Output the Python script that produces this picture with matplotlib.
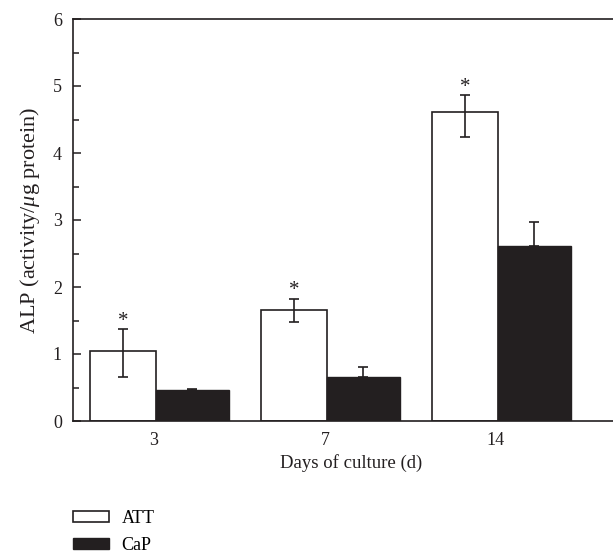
import numpy as np
import matplotlib
matplotlib.use("Agg")
import matplotlib.pyplot as plt
from matplotlib.ticker import MultipleLocator
from matplotlib.patches import Patch

plt.rcParams['font.family'] = ['Liberation Serif', 'DejaVu Serif']
plt.rcParams['mathtext.fontset'] = 'custom'
plt.rcParams['mathtext.rm'] = 'Liberation Serif'
plt.rcParams['mathtext.it'] = 'Liberation Serif:italic'

days = ['3', '7', '14']
att = [1.04, 1.66, 4.61]
att_err_lo = [0.39, 0.18, 0.37]
att_err_hi = [0.33, 0.165, 0.25]
cap = [0.46, 0.66, 2.61]
cap_err = [0.02, 0.15, 0.36]
signif = [True, True, True]

dark = '#231f20'
fs = 13

fig = plt.figure(figsize=(6.13, 5.57), dpi=100)
W, H = 613, 557
ax = fig.add_axes([73 / W, (H - 421) / H, (630 - 73) / W, (421 - 19) / H])

x = np.arange(len(days))
w_att, w_cap = 0.385, 0.425
ax.bar(x - w_att / 2, att, w_att, color='white', edgecolor=dark, linewidth=1.2, zorder=2)
ax.bar(x + w_cap / 2, cap, w_cap, color=dark, edgecolor=dark, linewidth=1.0, zorder=2)
ax.errorbar(x - w_att / 2, att, yerr=[att_err_lo, att_err_hi], fmt='none', ecolor=dark,
            elinewidth=1.2, capsize=3.3, capthick=1.2, zorder=3)
ax.errorbar(x + w_cap / 2, cap, yerr=[np.zeros(3), cap_err], fmt='none', ecolor=dark,
            elinewidth=1.2, capsize=3.3, capthick=1.2, zorder=3)

for xi, v, e, s in zip(x, att, att_err_hi, signif):
    if s:
        ax.annotate('*', xy=(xi - w_att / 2, v + e), xytext=(0, -1),
                    textcoords='offset points', ha='center', va='bottom',
                    fontsize=15, color=dark)

ax.set_xlim(-0.485, (630 - 156) / 171)
ax.set_ylim(0, 6)
ax.set_xticks(x - 0.012)
ax.set_xticklabels(days, fontsize=fs, color=dark)
ax.tick_params(axis='x', length=0, pad=8)
ax.yaxis.set_major_locator(MultipleLocator(1))
ax.yaxis.set_minor_locator(MultipleLocator(0.5))
ax.tick_params(axis='y', which='major', direction='in', length=6, width=1.1,
               colors=dark, labelsize=fs, pad=8)
ax.tick_params(axis='y', which='minor', direction='in', length=4.5, width=1.1, colors=dark)
for sp in ax.spines.values():
    sp.set_color(dark)
    sp.set_linewidth(1.2)

ax.set_xlabel('Days of culture (d)', fontsize=13.5, color=dark, labelpad=3.5)
ax.set_ylabel(r'ALP (activity/$\mathit{\mu}$g protein)', fontsize=16, color=dark, labelpad=8)

handles = [Patch(facecolor='white', edgecolor=dark, linewidth=1.2, label='ATT'),
           Patch(facecolor=dark, edgecolor=dark, label='CaP')]
fig.legend(handles=handles, loc='upper left', bbox_to_anchor=(73 / W, 1 - 510 / H),
           frameon=False, fontsize=fs, handlelength=2.0, handleheight=0.5,
           handletextpad=0.7, labelspacing=0.55, borderpad=0, borderaxespad=0)

fig.savefig('out.png', dpi=100)
